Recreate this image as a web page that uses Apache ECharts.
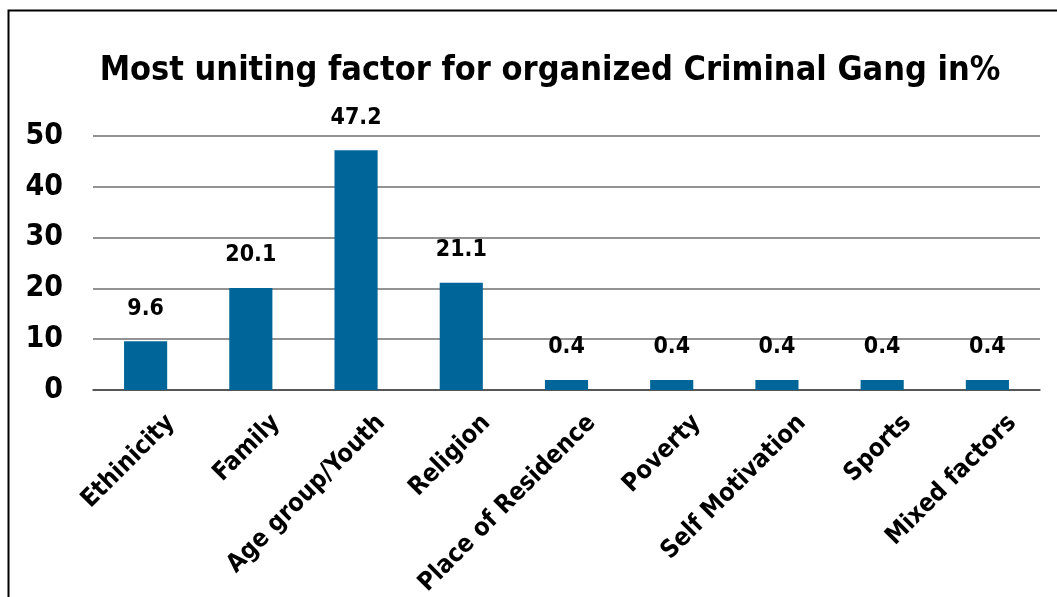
<!DOCTYPE html>
<html>
<head>
<meta charset="utf-8">
<script src="https://cdn.jsdelivr.net/npm/echarts@6/dist/echarts.min.js"></script>
<style>
  html, body { margin: 0; padding: 0; background: #fff; }
  #chart { width: 1057px; height: 597px; }
</style>
</head>
<body>
<div id="chart"></div>
<script>
// Survey results: most uniting factor for organized criminal gangs (percent)
const chartTitle = 'Most uniting factor for organized Criminal Gang in%';
const categories = ['Ethinicity', 'Family', 'Age group/Youth', 'Religion', 'Place of Residence',
                    'Poverty', 'Self Motivation', 'Sports', 'Mixed factors'];
const percentages = [9.6, 20.1, 47.2, 21.1, 0.4, 0.4, 0.4, 0.4, 0.4];
const yTicks = [0, 10, 20, 30, 40, 50];

const FONT = '"DejaVu Sans Condensed", "Liberation Sans Narrow", sans-serif';
const BAR_COLOR = '#006699';

const chart = echarts.init(document.getElementById('chart'), null, { renderer: 'canvas' });

chart.setOption({
  backgroundColor: '#ffffff',
  animation: false,
  title: {
    text: chartTitle,
    left: 545,
    textAlign: 'center',
    top: 49,
    textStyle: { fontFamily: FONT, fontWeight: 'bold', fontSize: 34, color: '#000' }
  },
  graphic: [{
    type: 'polyline',
    shape: { points: [[8.5, 597], [8.5, 10.5], [1057, 10.5]] },
    style: { stroke: '#000', lineWidth: 2, fill: null },
    silent: true
  }],
  grid: { left: 93, right: 17, top: 136, bottom: 207, containLabel: false, outerBoundsMode: 'none' },
  xAxis: {
    type: 'category',
    data: categories,
    axisLine: { show: true, lineStyle: { color: '#444', width: 1.5 } },
    axisTick: { show: false },
    axisLabel: {
      interval: 0,
      rotate: 45,
      margin: 4,
      verticalAlign: 'top',
      padding: [23, 0, 0, 0],
      fontFamily: FONT,
      fontWeight: 'bold',
      fontSize: 25,
      color: '#000'
    }
  },
  yAxis: {
    type: 'value',
    min: yTicks[0],
    max: yTicks[yTicks.length - 1],
    interval: yTicks[1] - yTicks[0],
    axisLine: { show: false },
    axisTick: { show: false },
    splitLine: { lineStyle: { color: '#6f6f6f', width: 1.5 } },
    axisLabel: {
      margin: 30,
      fontFamily: FONT,
      fontWeight: 'bold',
      fontSize: 30,
      color: '#000'
    }
  },
  series: [{
    type: 'bar',
    data: percentages,
    barWidth: '41%',
    barMinHeight: 10,
    itemStyle: { color: BAR_COLOR },
    label: {
      show: true,
      position: 'top',
      distance: 21,
      fontFamily: FONT,
      fontWeight: 'bold',
      fontSize: 23,
      color: '#000',
      formatter: p => p.value.toFixed(1)
    }
  }]
});
</script>
</body>
</html>
